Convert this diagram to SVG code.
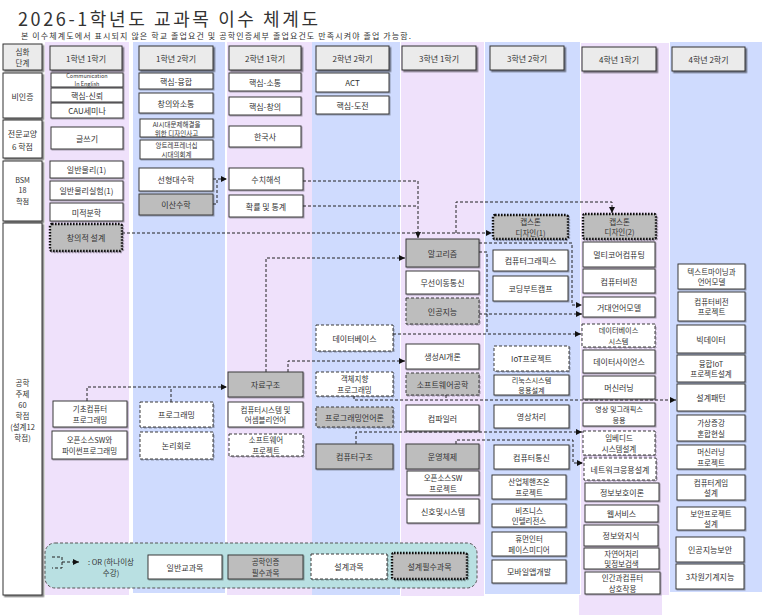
<svg xmlns="http://www.w3.org/2000/svg" width="762" height="615" viewBox="0 0 762 615">
<style>
text{font-family:"Noto Sans CJK KR","Liberation Sans",sans-serif;fill:#333;}
.t{font-size:8px;text-anchor:middle;dominant-baseline:central;}
.t2{font-size:7.5px;}
.s{font-size:6.5px;}
.m{font-size:7.2px;}
.xs{font-size:5.5px;}
.pk{fill:#EFE1FB;}
.bl{fill:#CFDBFE;}
.n{fill:#fff;stroke:#3a3a3a;stroke-width:1;filter:url(#sh2);}
.g{fill:#BDBDBD;}
.d{stroke-dasharray:3 2;}
.dt{stroke:#111;stroke-width:2.4;stroke-dasharray:1.6 1.4;}
.hd{fill:#EBEBEB;stroke:#333;stroke-width:1;filter:url(#sh);}
.c{fill:none;stroke:#222;stroke-width:1;stroke-dasharray:3 2;}
.a{marker-end:url(#ar);}
</style>
<defs>
<filter id="sh" x="-10%" y="-10%" width="130%" height="150%"><feDropShadow dx="1.6" dy="1.6" stdDeviation="0.6" flood-color="#000" flood-opacity="0.5"/></filter>
<filter id="sh2" x="-10%" y="-10%" width="130%" height="150%"><feDropShadow dx="1" dy="1" stdDeviation="0.5" flood-color="#000" flood-opacity="0.3"/></filter>
<marker id="ar" markerUnits="userSpaceOnUse" markerWidth="7" markerHeight="7" refX="6" refY="3" orient="auto"><path d="M0,0 L6,3 L0,6 z" fill="#111"/></marker>
</defs>
<rect width="762" height="615" fill="#fff"/>
<g id="columns">
<rect class="pk" x="45" y="42" width="84" height="553"/>
<rect class="bl" x="133" y="42" width="92" height="551"/>
<rect class="pk" x="227" y="42" width="85" height="553"/>
<rect class="bl" x="312" y="42" width="88" height="553"/>
<rect class="pk" x="401" y="42" width="83" height="554"/>
<rect class="bl" x="485" y="42" width="95" height="552"/>
<rect class="pk" x="581" y="43" width="88" height="552"/>
<rect class="pk" x="579" y="595" width="83" height="20"/>
<rect class="bl" x="670" y="42" width="92" height="550"/>
</g>
<g id="title">
<text x="18" y="26" font-size="18" textLength="300" lengthAdjust="spacing" fill="#111">2026-1학년도 교과목 이수 체계도</text>
<text x="21" y="38.5" font-size="8" textLength="390" lengthAdjust="spacing">본 이수체계도에서 표시되지 않은 학교 졸업요건 및 공학인증세부 졸업요건도 만족시켜야 졸업 가능함.</text>
</g>
<g id="rowlabels">
<g id="L0"><rect class="hd" x="3" y="44" width="39" height="26"/><text class="t t2" x="22.5" y="51.6">심화</text><text class="t t2" x="22.5" y="62.6">단계</text></g>
<g id="L1"><rect class="hd" style="fill:#fff" x="3" y="73" width="39" height="45"/><text class="t" x="22.5" y="96">비인증</text></g>
<g id="L2"><rect class="hd" style="fill:#fff" x="3" y="120" width="39" height="38"/><text class="t" x="22.5" y="133">전문교양</text><text class="t" x="22.5" y="146">6 학점</text></g>
<g id="L3"><rect class="hd" style="fill:#fff" x="3" y="161" width="39" height="60"/><text class="t m" x="22.5" y="179.5">BSM</text><text class="t m" x="22.5" y="190">18</text><text class="t m" x="22.5" y="200.5">학점</text></g>
<g id="L4"><rect class="hd" style="fill:#fff" x="3" y="223" width="39" height="372"/><text class="t t2" x="22.5" y="382">공학</text><text class="t t2" x="22.5" y="393">주제</text><text class="t t2" x="22.5" y="404">60</text><text class="t t2" x="22.5" y="415">학점</text><text class="t t2" x="22.5" y="426">(설계12</text><text class="t t2" x="22.5" y="437">학점)</text></g>
</g>
<g id="headers">
<g id="H1"><rect class="hd" x="50" y="46" width="72" height="24"/><text class="t" x="86" y="58">1학년 1학기</text></g>
<g id="H2"><rect class="hd" x="139" y="46" width="74" height="24"/><text class="t" x="176" y="58">1학년 2학기</text></g>
<g id="H3"><rect class="hd" x="229" y="46" width="72" height="24"/><text class="t" x="265" y="58">2학년 1학기</text></g>
<g id="H4"><rect class="hd" x="316" y="46" width="73" height="24"/><text class="t" x="352.5" y="58">2학년 2학기</text></g>
<g id="H5"><rect class="hd" x="402" y="46" width="74" height="24"/><text class="t" x="439" y="58">3학년 1학기</text></g>
<g id="H6"><rect class="hd" x="490" y="46" width="74" height="24"/><text class="t" x="527" y="58">3학년 2학기</text></g>
<g id="H7"><rect class="hd" x="582" y="47" width="74" height="24"/><text class="t" x="619" y="59">4학년 1학기</text></g>
<g id="H8"><rect class="hd" x="672" y="47" width="73" height="24"/><text class="t" x="708.5" y="59">4학년 2학기</text></g>
</g>
<g id="connectors">
<path class="c a" d="M213,179 H227"/>
<path class="c" d="M213,204 H217 V179"/>
<path class="c a" d="M303,181 H418 V238"/>
<path class="c" d="M303,206 H418"/>
<path class="c a" d="M122,233 H492"/>
<path class="c a" d="M456,233 V202 H612 V213"/>
<path class="c a" d="M479,243 H572 V305 H582"/>
<path class="c" d="M479,252 H487 V334"/>
<path class="c a" d="M479,314 H582"/>
<path class="c a" d="M393,334 H581"/>
<path class="c a" d="M87,401 V387 H227"/>
<path class="c" d="M171,402 V387"/>
<path class="c a" d="M266,372 V258 H405"/>
<path class="c a" d="M288,372 V361 H405"/>
<path class="c a" d="M354,396 V400 H676"/>
<path class="c" d="M446,395 V400"/>
<path class="c a" d="M356,444 V432 H582"/>
<path class="c a" d="M456,444 V440 H573 V463 H583"/>
</g>
<g id="col1">
<g id="n_comm"><rect class="n" x="51" y="73" width="72" height="14"/><text class="t xs" x="87" y="76.3">Communication</text><text class="t xs" x="87" y="83.9">In English</text></g>
<g id="n_trust"><rect class="n" x="51" y="88" width="72" height="14"/><text class="t" x="87" y="95">핵심-신뢰</text></g>
<g id="n_cau"><rect class="n" x="51" y="103" width="72" height="15"/><text class="t" x="87" y="110.5">CAU세미나</text></g>
<g id="n_write"><rect class="n" x="51" y="127" width="72" height="22"/><text class="t" x="87" y="138">글쓰기</text></g>
<g id="n_phys1"><rect class="n" x="50" y="161" width="73" height="17"/><text class="t" x="86.5" y="169.5">일반물리(1)</text></g>
<g id="n_physlab"><rect class="n" x="50" y="181" width="73" height="19"/><text class="t" x="86.5" y="190.5">일반물리실험(1)</text></g>
<g id="n_calc"><rect class="n" x="50" y="203" width="73" height="18"/><text class="t" x="86.5" y="212">미적분학</text></g>
<g id="n_creative"><rect class="n g dt" x="50" y="224" width="72" height="27" rx="2"/><text class="t" x="86" y="237.5">창의적 설계</text></g>
<g id="n_basicprog"><rect class="n" x="53" y="401" width="74" height="26"/><text class="t t2" x="90" y="408.6">기초컴퓨터</text><text class="t t2" x="90" y="419.4">프로그래밍</text></g>
<g id="n_osspy"><rect class="n" x="52" y="431" width="75" height="28"/><text class="t t2" x="89.5" y="439.6">오픈소스SW와</text><text class="t t2" x="89.5" y="450.4">파이썬프로그래밍</text></g>
</g>
<g id="col2">
<g id="n_fusion"><rect class="n" x="139" y="73" width="74" height="16"/><text class="t" x="176" y="81">핵심-융합</text></g>
<g id="n_creacomm"><rect class="n" x="139" y="93" width="74" height="20"/><text class="t" x="176" y="103">창의와소통</text></g>
<g id="n_aidesign"><rect class="n" x="140" y="119" width="73" height="18"/><text class="t s" x="176.5" y="123.5">AI시대문제해결을</text><text class="t s" x="176.5" y="132.8">위한 디자인사고</text></g>
<g id="n_entre"><rect class="n" x="140" y="140" width="73" height="19"/><text class="t s" x="176.5" y="144.8">앙트레프레너십</text><text class="t s" x="176.5" y="154.2">시대의회계</text></g>
<g id="n_linalg"><rect class="n" x="139" y="168" width="74" height="23"/><text class="t" x="176" y="179.5">선형대수학</text></g>
<g id="n_discrete"><rect class="n g" x="139" y="194" width="74" height="21"/><text class="t" x="176" y="204.5">이산수학</text></g>
<g id="n_prog"><rect class="n d" x="140" y="402" width="73" height="25"/><text class="t" x="176.5" y="414.5">프로그래밍</text></g>
<g id="n_logic"><rect class="n d" x="140" y="432" width="73" height="27"/><text class="t" x="176.5" y="445.5">논리회로</text></g>
</g>
<g id="col3">
<g id="n_comm2"><rect class="n" x="229" y="73" width="72" height="18"/><text class="t" x="265" y="82">핵심-소통</text></g>
<g id="n_crea2"><rect class="n" x="229" y="97" width="72" height="18"/><text class="t" x="265" y="106">핵심-창의</text></g>
<g id="n_korhist"><rect class="n" x="229" y="126" width="72" height="21"/><text class="t" x="265" y="136.5">한국사</text></g>
<g id="n_numeric"><rect class="n" x="229" y="168" width="74" height="22"/><text class="t" x="266" y="179">수치해석</text></g>
<g id="n_prob"><rect class="n" x="229" y="195" width="74" height="22"/><text class="t" x="266" y="206">확률 및 통계</text></g>
<g id="n_ds"><rect class="n g" x="228" y="372" width="75" height="25"/><text class="t" x="265.5" y="384.5">자료구조</text></g>
<g id="n_cs"><rect class="n" x="228" y="402" width="75" height="25"/><text class="t t2" x="265.5" y="409.1">컴퓨터시스템 및</text><text class="t t2" x="265.5" y="419.9">어셈블리언어</text></g>
<g id="n_swproj"><rect class="n d" x="229" y="434" width="74" height="22"/><text class="t t2" x="266" y="439.6">소프트웨어</text><text class="t t2" x="266" y="450.4">프로젝트</text></g>
</g>
<g id="col4">
<g id="n_act"><rect class="n" x="316" y="73" width="73" height="19"/><text class="t" x="352.5" y="82.5">ACT</text></g>
<g id="n_chal"><rect class="n" x="316" y="96" width="73" height="18"/><text class="t" x="352.5" y="105">핵심-도전</text></g>
<g id="n_db"><rect class="n d" x="316" y="325" width="77" height="26"/><text class="t" x="354.5" y="338">데이터베이스</text></g>
<g id="n_oop"><rect class="n d" x="316" y="372" width="77" height="24"/><text class="t t2" x="354.5" y="378.6">객체지향</text><text class="t t2" x="354.5" y="389.4">프로그래밍</text></g>
<g id="n_pl"><rect class="n g d" x="316" y="407" width="77" height="20"/><text class="t" x="354.5" y="417">프로그래밍언어론</text></g>
<g id="n_arch"><rect class="n g" x="316" y="444" width="77" height="25"/><text class="t" x="354.5" y="456.5">컴퓨터구조</text></g>
</g>
<g id="col5">
<g id="n_algo"><rect class="n g" x="406" y="239" width="73" height="28"/><text class="t" x="442.5" y="253">알고리즘</text></g>
<g id="n_wireless"><rect class="n" x="406" y="271" width="73" height="23"/><text class="t" x="442.5" y="282.5">무선이동통신</text></g>
<g id="n_ai"><rect class="n g d" x="406" y="298" width="73" height="26"/><text class="t" x="442.5" y="311">인공지능</text></g>
<g id="n_genai"><rect class="n" x="406" y="344" width="73" height="25"/><text class="t" x="442.5" y="356.5">생성AI개론</text></g>
<g id="n_se"><rect class="n g d" x="406" y="373" width="73" height="22"/><text class="t" x="442.5" y="384">소프트웨어공학</text></g>
<g id="n_compiler"><rect class="n" x="406" y="405" width="73" height="26"/><text class="t" x="442.5" y="418">컴파일러</text></g>
<g id="n_os"><rect class="n g" x="406" y="444" width="73" height="25"/><text class="t" x="442.5" y="456.5">운영체제</text></g>
<g id="n_ossproj"><rect class="n" x="407" y="471" width="72" height="24"/><text class="t t2" x="443" y="477.6">오픈소스SW</text><text class="t t2" x="443" y="488.4">프로젝트</text></g>
<g id="n_signal"><rect class="n" x="407" y="499" width="72" height="24"/><text class="t" x="443" y="511">신호및시스템</text></g>
</g>
<g id="col6">
<g id="n_cap1"><rect class="n g dt" x="493" y="215" width="75" height="24" rx="2"/><text class="t t2" x="530.5" y="221.6">캡스톤</text><text class="t t2" x="530.5" y="232.4">디자인(1)</text></g>
<g id="n_graphics"><rect class="n" x="493" y="250" width="75" height="21"/><text class="t" x="530.5" y="260.5">컴퓨터그래픽스</text></g>
<g id="n_coding"><rect class="n" x="493" y="276" width="75" height="25"/><text class="t" x="530.5" y="288.5">코딩부트캠프</text></g>
<g id="n_iot"><rect class="n d" x="494" y="346" width="75" height="25"/><text class="t" x="531.5" y="358.5">IoT프로젝트</text></g>
<g id="n_linux"><rect class="n" x="494" y="375" width="75" height="20"/><text class="t m" x="531.5" y="379.8">리눅스시스템</text><text class="t m" x="531.5" y="390.2">응용설계</text></g>
<g id="n_image"><rect class="n" x="494" y="405" width="75" height="23"/><text class="t" x="531.5" y="416.5">영상처리</text></g>
<g id="n_netcomm"><rect class="n" x="494" y="445" width="75" height="24"/><text class="t" x="531.5" y="457">컴퓨터통신</text></g>
<g id="n_handson"><rect class="n" x="492" y="475" width="74" height="24"/><text class="t t2" x="529" y="481.6">산업체핸즈온</text><text class="t t2" x="529" y="492.4">프로젝트</text></g>
<g id="n_bi"><rect class="n" x="492" y="504" width="74" height="23"/><text class="t t2" x="529" y="510.1">비즈니스</text><text class="t t2" x="529" y="520.9">인텔리전스</text></g>
<g id="n_hcimedia"><rect class="n" x="492" y="532" width="74" height="24"/><text class="t t2" x="529" y="538.6">휴먼인터</text><text class="t t2" x="529" y="549.4">페이스미디어</text></g>
<g id="n_mobile"><rect class="n" x="492" y="560" width="74" height="23"/><text class="t" x="529" y="571.5">모바일앱개발</text></g>
</g>
<g id="col7">
<g id="n_cap2"><rect class="n g dt" x="583" y="214" width="73" height="25" rx="2"/><text class="t t2" x="619.5" y="221.1">캡스톤</text><text class="t t2" x="619.5" y="231.9">디자인(2)</text></g>
<g id="n_multicore"><rect class="n" x="583" y="242" width="72" height="25"/><text class="t" x="619" y="254.5">멀티코어컴퓨팅</text></g>
<g id="n_cv"><rect class="n" x="583" y="269" width="72" height="24"/><text class="t" x="619" y="281">컴퓨터비전</text></g>
<g id="n_llm"><rect class="n" x="583" y="297" width="72" height="20"/><text class="t" x="619" y="307">거대언어모델</text></g>
<g id="n_dbsys"><rect class="n d" x="582" y="324" width="73" height="23"/><text class="t m" x="618.5" y="330.3">데이터베이스</text><text class="t m" x="618.5" y="340.7">시스템</text></g>
<g id="n_datasci"><rect class="n" x="583" y="350" width="72" height="23"/><text class="t" x="619" y="361.5">데이터사이언스</text></g>
<g id="n_ml"><rect class="n" x="583" y="376" width="72" height="23"/><text class="t" x="619" y="387.5">머신러닝</text></g>
<g id="n_imggfx"><rect class="n" x="583" y="403" width="72" height="23"/><text class="t m" x="619" y="409.3">영상 및그래픽스</text><text class="t m" x="619" y="419.7">응용</text></g>
<g id="n_embedded"><rect class="n d" x="583" y="431" width="72" height="24"/><text class="t t2" x="619" y="437.6">임베디드</text><text class="t t2" x="619" y="448.4">시스템설계</text></g>
<g id="n_netapp"><rect class="n d" x="584" y="458" width="72" height="22"/><text class="t" x="620" y="469">네트워크응용설계</text></g>
<g id="n_infosec"><rect class="n" x="585" y="483" width="74" height="18"/><text class="t" x="622" y="492">정보보호이론</text></g>
<g id="n_web"><rect class="n" x="585" y="505" width="73" height="17"/><text class="t" x="621.5" y="513.5">웹서비스</text></g>
<g id="n_infoknow"><rect class="n" x="584" y="525" width="74" height="21"/><text class="t" x="621" y="535.5">정보와지식</text></g>
<g id="n_nlp"><rect class="n" x="584" y="548" width="75" height="21"/><text class="t t2" x="621.5" y="553.1">자연어처리</text><text class="t t2" x="621.5" y="563.9">및정보검색</text></g>
<g id="n_hci"><rect class="n" x="585" y="572" width="75" height="22"/><text class="t t2" x="622.5" y="577.6">인간과컴퓨터</text><text class="t t2" x="622.5" y="588.4">상호작용</text></g>
</g>
<g id="col8">
<g id="n_textmining"><rect class="n" x="678" y="264" width="67" height="25"/><text class="t t2" x="711.5" y="271.1">텍스트마이닝과</text><text class="t t2" x="711.5" y="281.9">언어모델</text></g>
<g id="n_cvproj"><rect class="n" x="678" y="292" width="67" height="29"/><text class="t t2" x="711.5" y="301.1">컴퓨터비전</text><text class="t t2" x="711.5" y="311.9">프로젝트</text></g>
<g id="n_bigdata"><rect class="n" x="677" y="325" width="68" height="28"/><text class="t" x="711" y="339">빅데이터</text></g>
<g id="n_iotproj"><rect class="n" x="677" y="355" width="68" height="27"/><text class="t t2" x="711" y="363.1">융합IoT</text><text class="t t2" x="711" y="373.9">프로젝트설계</text></g>
<g id="n_pattern"><rect class="n" x="677" y="384" width="68" height="27"/><text class="t" x="711" y="397.5">설계패턴</text></g>
<g id="n_arvr"><rect class="n" x="677" y="415" width="68" height="26"/><text class="t t2" x="711" y="422.6">가상증강</text><text class="t t2" x="711" y="433.4">혼합현실</text></g>
<g id="n_mlproj"><rect class="n" x="677" y="445" width="68" height="24"/><text class="t t2" x="711" y="451.6">머신러닝</text><text class="t t2" x="711" y="462.4">프로젝트</text></g>
<g id="n_game"><rect class="n" x="677" y="475" width="68" height="25"/><text class="t t2" x="711" y="482.1">컴퓨터게임</text><text class="t t2" x="711" y="492.9">설계</text></g>
<g id="n_secproj"><rect class="n" x="677" y="507" width="68" height="23"/><text class="t t2" x="711" y="513.1">보안프로젝트</text><text class="t t2" x="711" y="523.9">설계</text></g>
<g id="n_aisec"><rect class="n" x="676" y="537" width="68" height="25"/><text class="t" x="710" y="549.5">인공지능보안</text></g>
<g id="n_3d"><rect class="n" x="676" y="564" width="68" height="25"/><text class="t" x="710" y="576.5">3차원기계지능</text></g>
</g>
<g id="legend">
<rect x="45" y="543" width="432" height="45" rx="10" fill="#B9E0E2" stroke="#555" stroke-width="1" stroke-dasharray="3 2"/>
<path class="c" d="M52,557 H62 V568 H52"/>
<path class="c a" d="M62,562 H79"/>
<text class="t t2" x="111" y="561.6">: OR (하나이상</text>
<text class="t t2" x="111" y="572.4">수강)</text>
<g id="lg_general"><rect class="n" x="148" y="555" width="74" height="24"/><text class="t" x="185" y="567">일반교과목</text></g>
<g id="lg_required"><rect class="n g" x="228" y="555" width="75" height="24"/><text class="t t2" x="265.5" y="561.6">공학인증</text><text class="t t2" x="265.5" y="572.4">필수과목</text></g>
<g id="lg_design"><rect class="n d" x="311" y="554" width="76" height="25"/><text class="t" x="349" y="566.5">설계과목</text></g>
<g id="lg_designreq"><rect class="n g dt" x="392" y="553" width="75" height="26" rx="2"/><text class="t" x="429.5" y="566">설계필수과목</text></g>
</g>
</svg>
